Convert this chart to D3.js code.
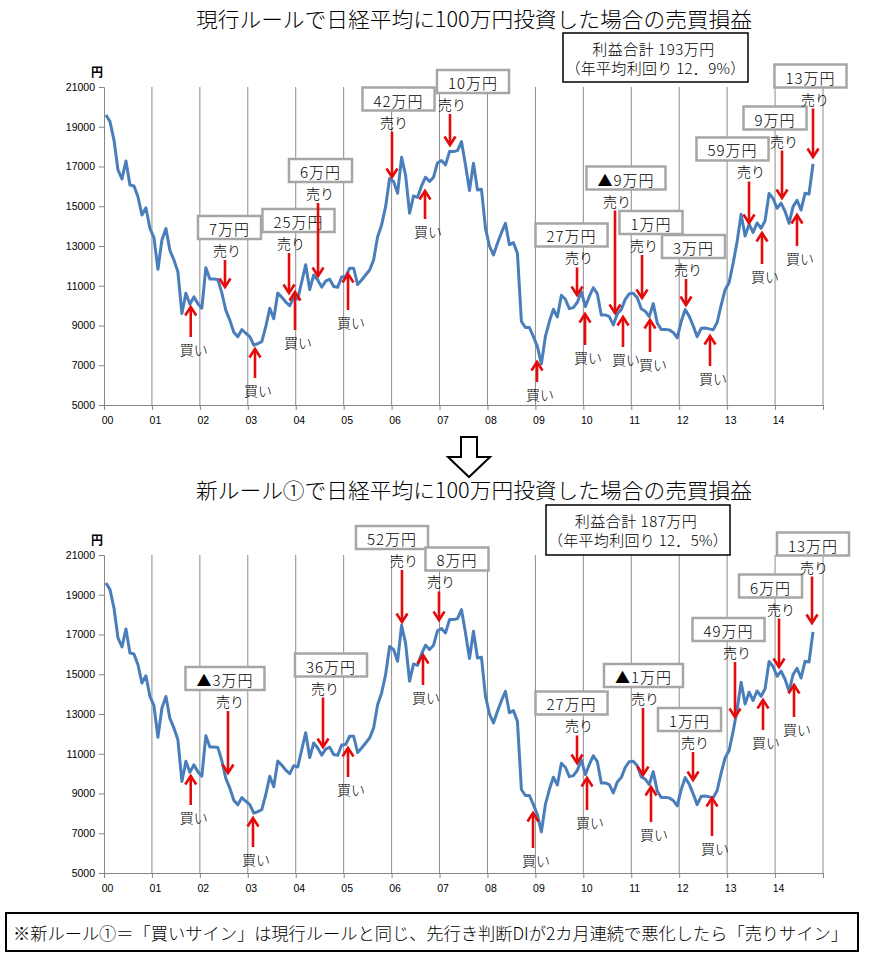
<!DOCTYPE html>
<html><head><meta charset="utf-8">
<script src="https://cdn.jsdelivr.net/npm/d3@7"></script>
<style>
html,body{margin:0;padding:0;background:#fff;}
svg{display:block;font-family:"Noto Sans CJK JP","Noto Sans",sans-serif;font-weight:300;}
</style></head>
<body>
<svg id="chart" width="882" height="963"></svg>
<script>
// Nikkei monthly series, Jan 2000 - Oct 2014 (yen)
const nikkei = [
19590,19260,18330,16830,16370,17280,16070,16020,15480,14560,14920,13880,
13420,11830,13300,13880,12780,12300,11700,9600,10620,10070,10440,10100,
9870,11910,11340,11340,11320,10640,9760,9270,8660,8430,8790,8610,
8440,8010,8090,8190,8940,9870,9340,10630,10430,10180,10000,10400,
10330,11200,12060,10810,11540,11290,10930,11230,11330,10960,10920,11440,
11460,11880,11880,11060,11290,11540,11790,12300,13470,14060,14980,16400,
16240,15650,17460,16570,14650,15520,15450,16020,16460,16240,16460,17190,
17300,17080,17750,17750,17800,18250,17080,15790,17160,15820,15850,13900,
13000,12550,13140,13670,14140,13060,13170,12630,9200,8900,8900,8440,
7940,7070,8450,9200,9820,9430,10520,10320,9850,9900,10170,10700,
9950,10460,10900,10600,9530,9530,9450,9030,9580,9800,10320,10600,
10620,10400,9840,9720,9450,10100,9130,8800,8800,8780,8650,8380,
9200,9800,9470,8980,8440,8860,8870,8830,8780,9150,10030,10800,
11160,12130,13220,14600,13500,14100,13680,14160,13890,14270,15640,15390,
14900,15160,14750,14140,14980,15300,14810,15650,15620,17130
];
const yearLabels = ["00","01","02","03","04","05","06","07","08","09","10","11","12","13","14"];
const yTicks = [5000,7000,9000,11000,13000,15000,17000,19000,21000];

const titles = ["現行ルールで日経平均に100万円投資した場合の売買損益",
                "新ルール①で日経平均に100万円投資した場合の売買損益"];
const profitLines = [["利益合計 193万円","（年平均利回り 12．9%）"],
                     ["利益合計 187万円","（年平均利回り 12．5%）"]];
const note = "※新ルール①＝「買いサイン」は現行ルールと同じ、先行き判断DIが2カ月連続で悪化したら「売りサイン」";

// sell signals: m = month position of arrow, boxM/boxV = label box anchor (month, yen), tipV = arrow tip (yen)
const topSells = [
 {m:30.29, boxM:31.42, boxV:13931, tipV:10937, text:"7万円"},
 {m:46.32, boxM:48.69, boxV:14283, tipV:10635, text:"25万円"},
 {m:53.58, boxM:54.20, boxV:16799, tipV:11491, text:"6万円"},
 {m:72.10, boxM:73.73, boxV:20396, tipV:16472, text:"42万円"},
 {m:86.62, boxM:92.38, boxV:21277, tipV:18082, text:"10万円"},
 {m:118.42, boxM:117.04, boxV:13554, tipV:10535, text:"27万円"},
 {m:127.93, boxM:130.68, boxV:16421, tipV:9629, text:"▲9万円"},
 {m:134.69, boxM:136.94, boxV:14183, tipV:10384, text:"1万円"},
 {m:145.70, boxM:147.58, boxV:12975, tipV:10032, text:"3万円"},
 {m:161.48, boxM:157.35, boxV:17881, tipV:14157, text:"59万円"},
 {m:169.74, boxM:167.99, boxV:19440, tipV:15415, text:"9万円"},
 {m:177.50, boxM:176.87, boxV:21553, tipV:17478, text:"13万円"}
];
// buy signals: m = month position, tipV / tailV = arrow ends (yen)
const topBuys = [
 {m:21.71, tipV:9931, tailV:8422},
 {m:37.80, tipV:7818, tailV:6359},
 {m:47.82, tipV:10686, tailV:8774},
 {m:61.09, tipV:11591, tailV:9780},
 {m:80.36, tipV:15767, tailV:14359},
 {m:108.40, tipV:7164, tailV:6157},
 {m:120.42, tipV:9579, tailV:8019},
 {m:129.93, tipV:9428, tailV:7918},
 {m:136.69, tipV:9277, tailV:7667},
 {m:151.71, tipV:8472, tailV:6962},
 {m:164.73, tipV:13654, tailV:12094},
 {m:173.49, tipV:14560, tailV:13000}
];
const bottomSells = [
 {m:31.04, boxM:30.29, boxV:14786, tipV:10032, text:"▲3万円"},
 {m:54.83, boxM:56.83, boxV:15465, tipV:11340, text:"36万円"},
 {m:74.60, boxM:72.10, boxV:21880, tipV:17629, text:"52万円"},
 {m:83.87, boxM:88.37, boxV:20799, tipV:17730, text:"8万円"},
 {m:118.42, boxM:117.04, boxV:13554, tipV:10535, text:"27万円"},
 {m:134.94, boxM:135.06, boxV:14937, tipV:9931, text:"▲1万円"},
 {m:147.46, boxM:146.58, boxV:12723, tipV:9679, text:"1万円"},
 {m:157.97, boxM:156.35, boxV:17252, tipV:12849, text:"49万円"},
 {m:168.99, boxM:166.86, boxV:19440, tipV:15365, text:"6万円"},
 {m:177.25, boxM:177.50, boxV:21553, tipV:17579, text:"13万円"}
];
const bottomBuys = [
 {m:21.71, tipV:9881, tailV:8422},
 {m:37.30, tipV:7767, tailV:6308},
 {m:61.09, tipV:11289, tailV:9830},
 {m:79.86, tipV:15969, tailV:14459},
 {m:107.40, tipV:8019, tailV:6258},
 {m:120.92, tipV:9780, tailV:8170},
 {m:136.94, tipV:9327, tailV:7566},
 {m:152.21, tipV:8774, tailV:6862},
 {m:164.98, tipV:13704, tailV:12195},
 {m:172.74, tipV:14459, tailV:12849}
];

const svg = d3.select("#chart");
svg.append("rect").attr("width",882).attr("height",963).attr("fill","#fff");

const RED = "#e30b0b";
const x = d3.scaleLinear().domain([0,180]).range([104,823]);

function arrow(g, ax, y1, y2){ // from y1 to tip y2
  const dir = y2 > y1 ? 1 : -1;
  g.append("line").attr("x1",ax).attr("x2",ax).attr("y1",y1).attr("y2",y2 - dir*1)
    .attr("stroke",RED).attr("stroke-width",2.6);
  g.append("polyline")
    .attr("points",`${ax-5.5},${y2-dir*8.5} ${ax},${y2} ${ax+5.5},${y2-dir*8.5}`)
    .attr("fill","none").attr("stroke",RED).attr("stroke-width",2.6).attr("stroke-linejoin","miter");
}

function panel(top, title, profit, sells, buys, titleY, boxRect){
  const y = d3.scaleLinear().domain([5000,21000]).range([top+318, top]);
  const g = svg.append("g");

  g.append("text").attr("x",474).attr("y",titleY).attr("text-anchor","middle")
    .attr("dominant-baseline","central").attr("font-size",21).attr("textLength",556)
    .attr("lengthAdjust","spacingAndGlyphs").attr("fill","#000").text(title);

  // vertical gridlines at year boundaries
  const years = d3.range(1,16);
  g.selectAll(".grid").data(years).join("line")
    .attr("x1",d=>x(d*12)).attr("x2",d=>x(d*12))
    .attr("y1",y(21000)).attr("y2",y(5000))
    .attr("stroke","#8c8c8c").attr("stroke-width",1);

  // y axis
  const ya = d3.axisLeft(y).tickValues(yTicks).tickSize(5).tickPadding(4).tickFormat(d3.format("d"));
  const yg = g.append("g").attr("transform",`translate(${x(0)},0)`).call(ya);
  yg.select(".domain").attr("stroke","#868686");
  yg.selectAll(".tick line").attr("stroke","#868686");
  yg.selectAll(".tick text").attr("font-size",10.5).attr("fill","#000")
    .attr("font-family","'Liberation Sans',Arial,sans-serif").attr("font-weight",400);

  // x axis
  const xa = d3.axisBottom(x).tickValues(d3.range(0,16).map(d=>d*12)).tickSize(5).tickPadding(7)
    .tickFormat((d,i)=> i < yearLabels.length ? yearLabels[i] : "");
  const xg = g.append("g").attr("transform",`translate(0,${y(5000)})`).call(xa);
  xg.select(".domain").attr("stroke","#868686");
  xg.selectAll(".tick line").attr("stroke","#868686");
  xg.selectAll(".tick text").attr("font-size",10.5).attr("fill","#000").attr("dx",3)
    .attr("font-family","'Liberation Sans',Arial,sans-serif").attr("font-weight",400);

  g.append("text").attr("x",97).attr("y",y(21000)-16).attr("text-anchor","middle")
    .attr("dominant-baseline","central").attr("font-size",12).attr("font-weight","bold").text("円");

  // series line
  const line = d3.line().x((d,i)=>x(i+0.5)).y(d=>y(d));
  g.append("path").datum(nikkei).attr("d",line).attr("fill","none")
    .attr("stroke","#4a7ebb").attr("stroke-width",3).attr("stroke-linejoin","round");

  // profit box
  g.append("rect").attr("x",boxRect[0]).attr("y",boxRect[1]).attr("width",boxRect[2]).attr("height",boxRect[3])
    .attr("fill","#fff").attr("stroke","#000").attr("stroke-width",1.5);
  g.append("text").attr("x",boxRect[0]+boxRect[2]/2-2).attr("y",boxRect[1]+15).attr("text-anchor","middle")
    .attr("dominant-baseline","central").attr("font-size",15).attr("letter-spacing",0.5).text(profit[0]);
  g.append("text").attr("x",boxRect[0]+boxRect[2]/2).attr("y",boxRect[1]+34).attr("text-anchor","middle")
    .attr("dominant-baseline","central").attr("font-size",15).attr("letter-spacing",0.3).text(profit[1]);

  // sells
  sells.forEach(s=>{
    const ax = x(s.m), bx = x(s.boxM), by = y(s.boxV);
    const t = g.append("text").attr("x",bx).attr("y",by+1).attr("text-anchor","middle")
      .attr("dominant-baseline","central").attr("font-size",15).attr("letter-spacing",1).text(s.text);
    const w = t.node().getComputedTextLength() + 22, h = 23;
    g.insert("rect", () => t.node()).attr("x",bx-w/2).attr("y",by-h/2).attr("width",w).attr("height",h)
      .attr("fill","#fff").attr("stroke","#a6a6a6").attr("stroke-width",2.5);
    const ly = by + h/2 + 11;
    g.append("text").attr("x",ax+2).attr("y",ly).attr("text-anchor","middle")
      .attr("dominant-baseline","central").attr("font-size",14).text("売り");
    arrow(g, ax, ly+10, y(s.tipV));
  });
  // buys
  buys.forEach(b=>{
    const ax = x(b.m), ty = y(b.tipV), tl = y(b.tailV);
    arrow(g, ax, tl, ty);
    g.append("text").attr("x",ax+3).attr("y",tl+12).attr("text-anchor","middle")
      .attr("dominant-baseline","central").attr("font-size",14).text("買い");
  });
}

panel(87, titles[0], profitLines[0], topSells, topBuys, 18, [563,33,185,49]);
panel(555, titles[1], profitLines[1], bottomSells, bottomBuys, 489, [546,505,184,50]);

// hollow down arrow between panels
svg.append("path")
  .attr("d","M461,437 L477,437 L477,457 L490,457 L469,477 L448,457 L461,457 Z")
  .attr("fill","#fff").attr("stroke","#000").attr("stroke-width",2);

// footnote
svg.append("rect").attr("x",6).attr("y",913).attr("width",852).attr("height",38)
  .attr("fill","#fff").attr("stroke","#000").attr("stroke-width",2);
svg.append("text").attr("x",13).attr("y",932).attr("dominant-baseline","central")
  .attr("font-size",17).attr("textLength",835).attr("lengthAdjust","spacingAndGlyphs").text(note);
</script>
</body></html>
